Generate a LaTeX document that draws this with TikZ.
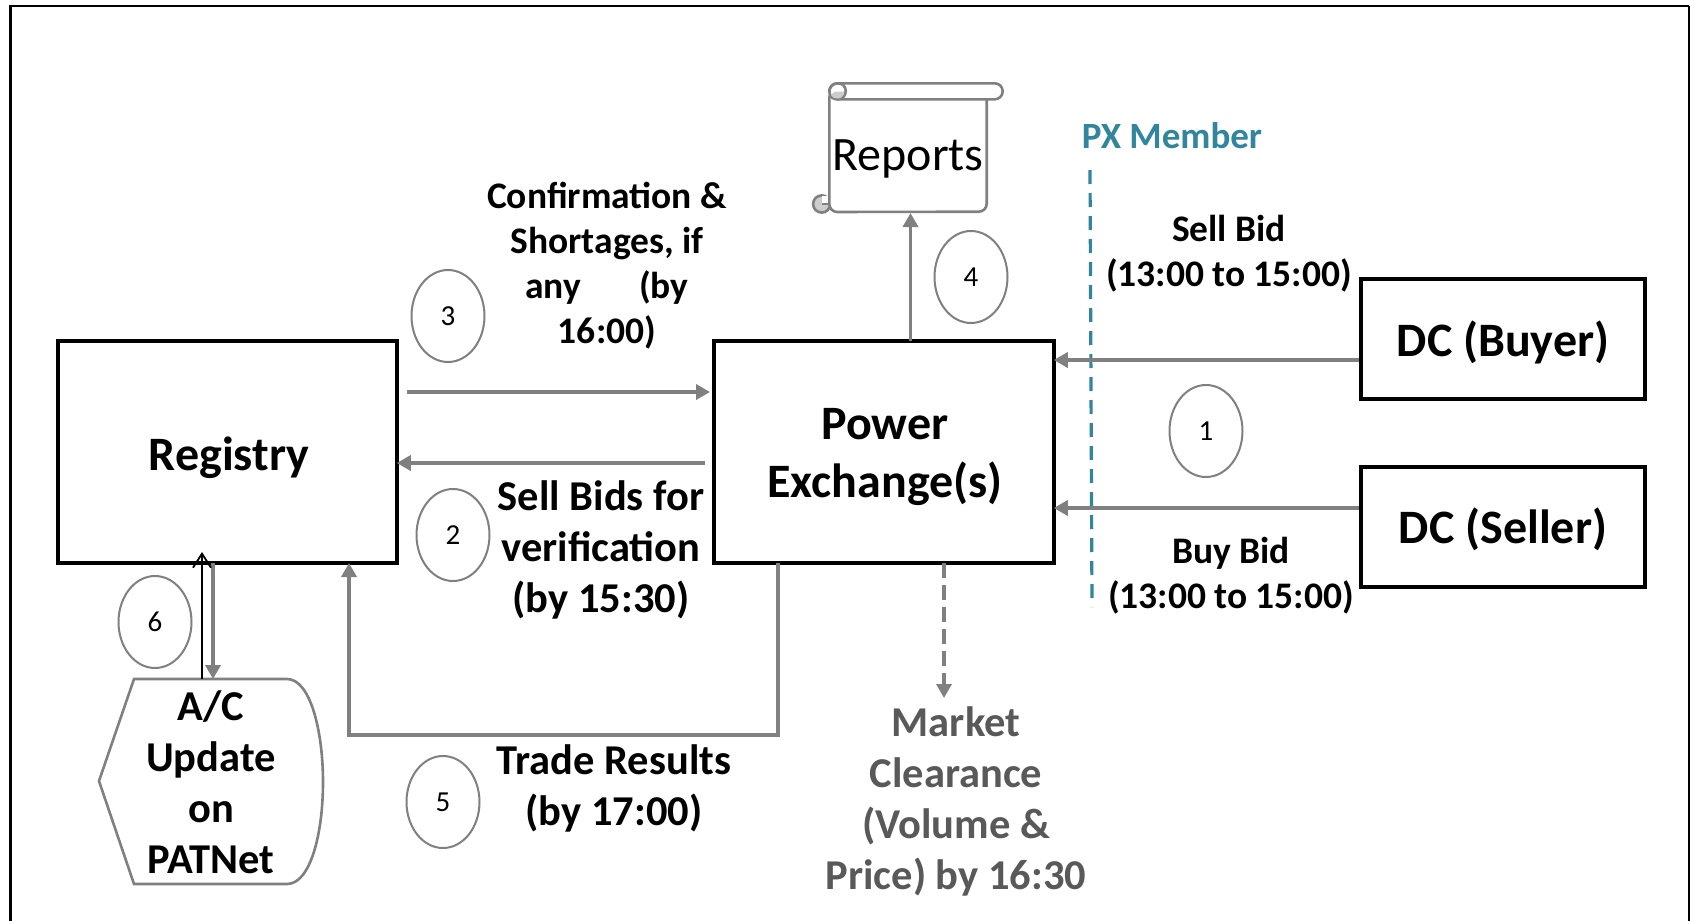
\documentclass[tikz,border=0pt]{standalone}
\usepackage{fontspec}
\setmainfont{Carlito}
\usetikzlibrary{arrows.meta,shapes.geometric}
\definecolor{gline}{RGB}{128,128,128}
\definecolor{tealc}{RGB}{49,133,156}
\definecolor{mkt}{RGB}{89,89,89}
\definecolor{curl}{RGB}{205,205,205}
\tikzset{
 x=1pt,y=-1pt,
 blackbox/.style={draw=black,line width=3.8pt,inner sep=0pt,anchor=north west},
 boxtext/.style={font=\fontsize{48}{58}\selectfont\bfseries,align=center},
 flowarrow/.style={draw=gline,line width=3.6pt,-{Triangle[length=14pt,width=15pt]}},
 scrollline/.style={draw=gline,line width=2.6pt},
 num/.style={draw=gline,line width=2pt,ellipse,minimum width=73pt,minimum height=92pt,inner sep=0pt,font=\fontsize{29}{34}\selectfont},
 lab/.style={font=\fontsize{37.5}{45}\selectfont\bfseries,align=center},
 labb/.style={font=\fontsize{42.5}{51}\selectfont\bfseries,align=center},
}
\begin{document}
\begin{tikzpicture}
\useasboundingbox (0,0) rectangle (1690,921);
\fill[white] (0,0) rectangle (1690,921);
\draw[black,line width=2.7pt] (10.3,925) -- (10.3,6) -- (1689,6);
\draw[black,line width=1.2pt] (1689,6) -- (1689,925);
% boxes
\node[blackbox,minimum width=339pt,minimum height=222pt] (reg) at (56,339) {};
\node[blackbox,minimum width=340pt,minimum height=222pt] (px) at (712,339) {};
\node[blackbox,minimum width=284pt,minimum height=120pt] (buy) at (1359,277) {};
\node[blackbox,minimum width=284pt,minimum height=120pt] (sell) at (1359,465) {};
\node[boxtext] (regt) at (229,458) {Registry};
\node[boxtext] (pxt) at (885,457) {Power\\Exchange(s)};
\node[boxtext] (buyt) at (1503,342) {DC (Buyer)};
\node[boxtext] (sellt) at (1503,529) {DC (Seller)};
% reports scroll
\coordinate (repb) at (910.5,213);
\draw[scrollline,fill=curl] (821.7,204) circle[radius=8.6];
\fill[white] (822,204) -- (829.3,204) -- (829.3,195.5) -- (822,195.5) -- cycle;
\draw[scrollline] (822,204) -- (829.3,204);
\draw[scrollline,fill=white,rounded corners=8pt] (829.3,212) -- (829.3,90) -- (986.7,90) -- (986.7,211.7) -- cycle;
\draw[scrollline,fill=white,rounded corners=8pt] (838,99.3) -- (829.3,99.3) -- (829.3,83.3) -- (1002.7,83.3) -- (1002.7,99.3) -- (838,99.3);
\draw[draw=none,fill=white] (830.5,84.5) rectangle (836,98);
\draw[scrollline] (829.3,92) .. controls (829.3,87) and (833,83.3) .. (838,83.3) .. controls (843,83.3) and (845.7,87) .. (845.7,91) .. controls (845.7,96) and (842,99.3) .. (838,99.3) .. controls (834,99.3) and (830,97) .. (830,94);
\draw[draw=none,fill=curl] (838,91.5) .. controls (834,91.5) and (832,93) .. (831,95) .. controls (832,98) and (835,98.5) .. (838,98.5) .. controls (841,98.5) and (844,96) .. (844.5,91.5) -- cycle;
\node[boxtext,font=\fontsize{48}{58}\selectfont\mdseries] (rep) at (908,159) {Reports};
% PX member line
\draw[tealc,line width=3.2pt,dash pattern=on 14pt off 9pt] (1090,170) -- (1092,607);
\node[font=\fontsize{37}{44}\selectfont\bfseries,text=tealc] (pxm) at (1172,136) {PX Member};
% flows
\draw[flowarrow,shorten >=-2pt] (buy.west |- 0,360) -- (px.east |- 0,360);
\draw[flowarrow,shorten >=-2pt] (sell.west |- 0,508) -- (px.east |- 0,508);
\coordinate (a3) at (407,392);
\draw[flowarrow,shorten >=2pt] (a3) -- (px.west |- a3);
\coordinate (a2) at (705,463);
\draw[flowarrow,shorten >=-2pt] (a2) -- (reg.east |- a2);
\draw[flowarrow] (910.5,341) -- (repb);
\draw[flowarrow,dash pattern=on 15pt off 7pt] (944,563) -- (944,698);
\draw[flowarrow] (778,563) -- (778,735) -- (349,735) -- (349,563);
% A/C
\draw[scrollline,fill=white] (134,679) -- (287,679) .. controls (310,679) and (323,730) .. (323,782) .. controls (323,835) and (310,884) .. (287,884) -- (134,884) -- (99,781) -- cycle;
\node[labb] (ac) at (211,782) {A/C\\Update\\on\\PATNet};
\coordinate (acTop) at (213,679);
\coordinate (acTopB) at (202,679);
\draw[flowarrow] (213,563) -- (acTop);
\draw[black,line width=1.8pt,-{Straight Barb[length=14pt,width=18pt]}] (acTopB) -- (202,552);
% numbers
\node[num] (n1) at (1206,431) {1};
\node[num] (n2) at (453,535) {2};
\node[num] (n3) at (448,316) {3};
\node[num] (n4) at (971,277) {4};
\node[num] (n5) at (443,802) {5};
\node[num] (n6) at (155,622) {6};
% labels
\node[lab] (l1) at (607,266) {Confirmation \&\\Shortages, if\\any\hspace{58pt}(by\\16:00)};
\node[labb] (l2) at (601,550) {Sell Bids for\\verification\\(by 15:30)};
\node[labb] (l3) at (614,788) {Trade Results\\(by 17:00)};
\node[labb,text=mkt] (l4) at (956,801) {Market\\Clearance\\(Volume \&\\Price) by 16:30};
\node[lab] (l5) at (1229,254) {Sell Bid\\(13:00 to 15:00)};
\node[lab] (l6) at (1231,576) {Buy Bid\\(13:00 to 15:00)};
\end{tikzpicture}
\end{document}
